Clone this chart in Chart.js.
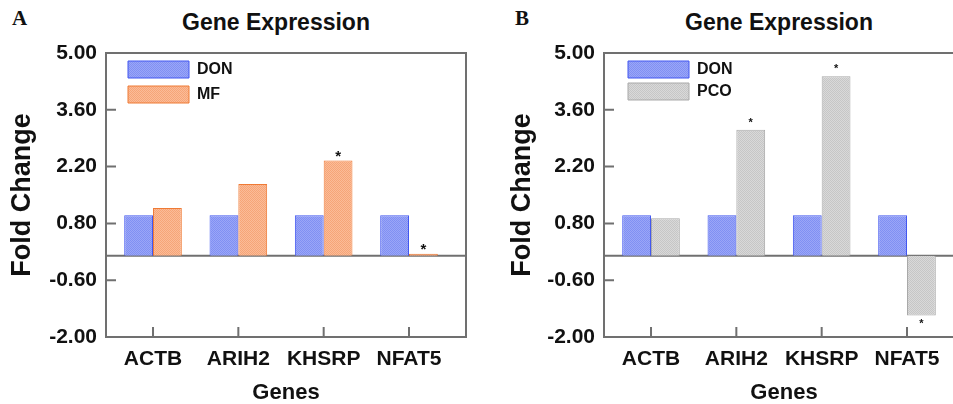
<!DOCTYPE html>
<html>
<head>
<meta charset="utf-8">
<script src="https://cdn.jsdelivr.net/npm/chart.js@4.4.1/dist/chart.umd.min.js"></script>
<style>
  html, body { margin: 0; padding: 0; background: #fff; overflow: hidden; width: 953px; height: 404px; }
  canvas { position: absolute; top: 0; }
  .letter { position: absolute; top: 6px; font: bold 21px "Liberation Serif", "Times New Roman", serif; color: #111; line-height: 24px; }
  .title { position: absolute; top: 9px; font: bold 23px Arial, "Liberation Sans", sans-serif; color: #111; line-height: 26px; transform: translateX(-50%); white-space: nowrap; }
</style>
</head>
<body>
<div class="letter" style="left:12px">A</div>
<div class="title" style="left:276px">Gene Expression</div>
<canvas id="chartA" width="480" height="404" style="left:0"></canvas>

<div class="letter" style="left:515px">B</div>
<div class="title" style="left:779px">Gene Expression</div>
<canvas id="chartB" width="484" height="404" style="left:480px"></canvas>

<script>
  "use strict";

  // ---- data ----
  const genes = ["ACTB", "ARIH2", "KHSRP", "NFAT5"];
  const yTicks = [-2.00, -0.60, 0.80, 2.20, 3.60, 5.00];

  const donA = [1.00, 1.00, 1.00, 1.00];
  const mfA = [1.18, 1.77, 2.35, 0.05];
  const sigA = ["", "", "*", "*"];

  const donB = [1.00, 1.00, 1.00, 1.00];
  const pcoB = [0.93, 3.11, 4.43, -1.47];
  const sigB = ["", "*", "*", "*"];

  const FONT = "Arial, 'Liberation Sans', sans-serif";

  function dither(base, dot) {
    const c = document.createElement("canvas");
    c.width = 2; c.height = 2;
    const g = c.getContext("2d");
    g.fillStyle = base; g.fillRect(0, 0, 2, 2);
    g.fillStyle = dot; g.fillRect(0, 0, 1, 1); g.fillRect(1, 1, 1, 1);
    return g.createPattern(c, "repeat");
  }

  const decor = {
    id: "decor",
    afterLayout(chart, args, o) {
      const lg = chart.legend, a = chart.chartArea;
      if (!lg) return;
      lg.left = a.left + o.legendX - o.legendPad;
      lg.top = a.top + o.legendY - o.legendPad;
    },
    beforeDatasetsDraw(chart) {
      const { ctx, chartArea: a, scales: { y } } = chart;
      const y0 = y.getPixelForValue(0);
      ctx.save();
      ctx.strokeStyle = "#707070";
      ctx.lineWidth = 2;
      ctx.beginPath();
      ctx.moveTo(a.left, y0);
      ctx.lineTo(a.right, y0);
      ctx.stroke();
      ctx.restore();
    },
    afterDatasetsDraw(chart, args, o) {
      const { ctx, chartArea: a, scales: { x, y } } = chart;
      ctx.save();
      ctx.strokeStyle = "#707070";
      ctx.lineWidth = 2;
      ctx.strokeRect(a.left, a.top, a.right - a.left, a.bottom - a.top);
      ctx.beginPath();
      yTicks.forEach(v => {
        const p = y.getPixelForValue(v);
        ctx.moveTo(a.left, p);
        ctx.lineTo(a.left + 10, p);
      });
      genes.forEach((g, i) => {
        const p = x.getPixelForValue(i);
        ctx.moveTo(p, a.bottom);
        ctx.lineTo(p, a.bottom - 10);
      });
      ctx.stroke();

      // significance stars over the second series
      const meta = chart.getDatasetMeta(1);
      const vals = chart.data.datasets[1].data;
      ctx.fillStyle = "#111";
      ctx.font = "bold " + o.starSize + "px " + FONT;
      ctx.textAlign = "center";
      ctx.textBaseline = "alphabetic";
      meta.data.forEach((el, i) => {
        if (!o.sig[i]) return;
        const up = vals[i].y >= 0;
        ctx.fillText(o.sig[i], el.x, up ? el.y - o.starUp : el.y + o.starDown);
      });
      ctx.restore();
    }
  };

  function build(id, seriesName, don, other, otherColors, sig, lay) {
    const ctx = document.getElementById(id).getContext("2d");
    return new Chart(ctx, {
      type: "bar",
      data: {
        datasets: [
          {
            label: "DON",
            data: genes.map((g, i) => ({ x: i, y: don[i] })),
            backgroundColor: dither("#9ba6f7", "#8090f3"),
            borderColor: "#4257f0",
            borderWidth: 1
          },
          {
            label: seriesName,
            data: genes.map((g, i) => ({ x: i, y: other[i] })),
            backgroundColor: dither(otherColors[0], otherColors[1]),
            borderColor: otherColors[2],
            borderWidth: 1
          }
        ]
      },
      options: {
        responsive: false,
        animation: false,
        devicePixelRatio: 1,
        barPercentage: 1,
        categoryPercentage: 0.675,
        layout: { padding: { top: 53, left: lay.padLeft, right: lay.padRight, bottom: 0 } },
        plugins: {
          title: { display: false },
          tooltip: { enabled: false },
          legend: {
            position: "chartArea",
            align: "start",
            labels: {
              boxWidth: 61,
              boxHeight: 17,
              padding: lay.legendPad,
              color: "#111",
              font: { family: FONT, size: 16, weight: "bold" }
            }
          },
          decor: {
            legendX: lay.legendX,
            legendY: lay.legendY,
            legendPad: lay.legendPad,
            sig: sig,
            starSize: lay.starSize,
            starUp: lay.starUp,
            starDown: lay.starDown
          }
        },
        scales: {
          x: {
            type: "linear",
            offset: false,
            min: -0.551,
            max: 3.668,
            afterBuildTicks: s => { s.ticks = genes.map((g, i) => ({ value: i })); },
            afterFit: s => { s.height = 67; },
            grid: { display: false, drawTicks: false, offset: false },
            border: { display: false },
            ticks: {
              padding: 10,
              autoSkip: false,
              maxRotation: 0,
              color: "#111",
              font: { family: FONT, size: 21, weight: "bold" },
              callback: v => genes[v]
            },
            title: {
              display: true,
              text: "Genes",
              color: "#111",
              padding: { top: 0, bottom: 0.5 },
              font: { family: FONT, size: 22, weight: "bold", lineHeight: 1 }
            }
          },
          y: {
            min: -2,
            max: 5,
            afterBuildTicks: s => { s.ticks = yTicks.map(v => ({ value: v })); },
            afterFit: s => { s.width = lay.yWidth; },
            grid: { display: false, drawTicks: false },
            border: { display: false },
            ticks: {
              padding: 9,
              color: "#111",
              font: { family: FONT, size: 21, weight: "bold" },
              callback: v => Number(v).toFixed(2)
            },
            title: {
              display: true,
              text: "Fold Change",
              color: "#111",
              padding: { top: 9.5, bottom: 0 },
              font: { family: FONT, size: 27, weight: "bold", lineHeight: 1 }
            }
          }
        }
      },
      plugins: [decor]
    });
  }

  build("chartA", "MF", donA, mfA, ["#fbbc98", "#f6a578", "#ef7a35"], sigA, {
    padLeft: 0, padRight: 14, yWidth: 106,
    legendX: 22, legendY: 8, legendPad: 8,
    starSize: 15, starUp: 0, starDown: 12
  });

  build("chartB", "PCO", donB, pcoB, ["#d9d9d9", "#c6c6c6", "#a9a9a9"], sigB, {
    padLeft: 20, padRight: 0, yWidth: 104,
    legendX: 24, legendY: 8, legendPad: 5,
    starSize: 11, starUp: 4, starDown: 12
  });
</script>
</body>
</html>
